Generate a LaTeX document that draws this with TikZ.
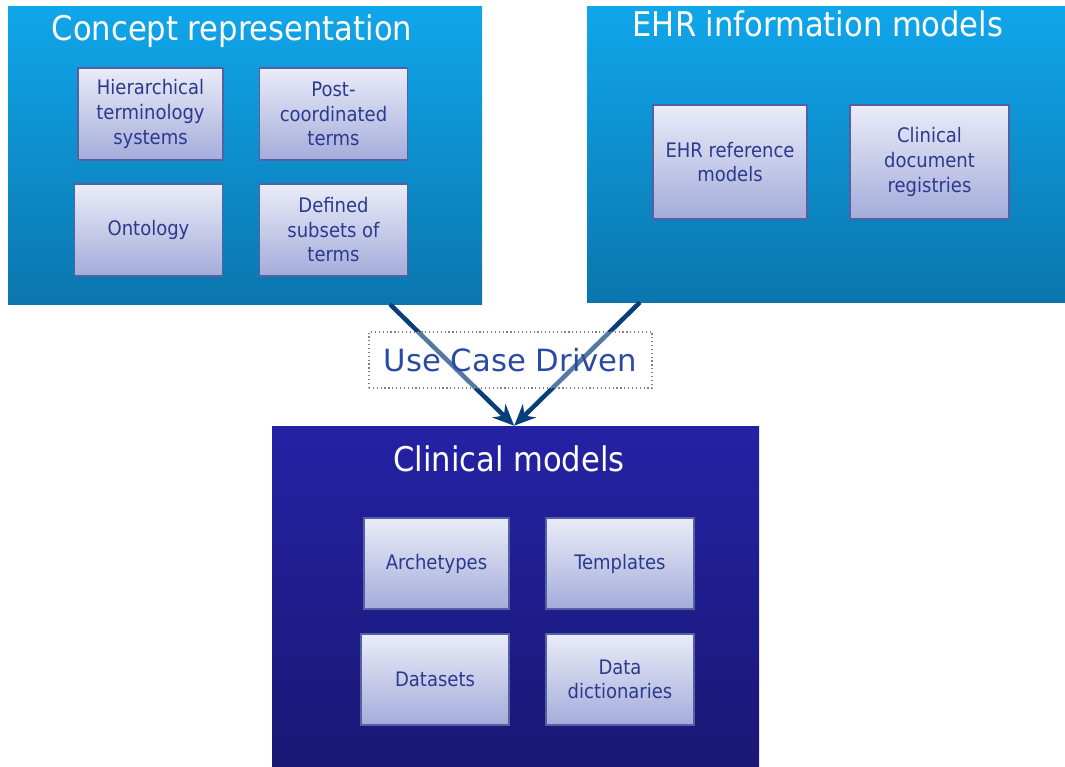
\documentclass[tikz,border=0pt]{standalone}
\usepackage{fontspec}
\setmainfont{DejaVu Sans Condensed}
\newfontfamily\drivefont{DejaVu Sans}
\usetikzlibrary{arrows.meta,fit}
\definecolor{skytop}{RGB}{16,166,234}
\definecolor{skybot}{RGB}{11,118,174}
\definecolor{indtop}{RGB}{36,34,164}
\definecolor{indbot}{RGB}{26,24,116}
\definecolor{boxtop}{RGB}{234,236,248}
\definecolor{boxbot}{RGB}{164,172,218}
\definecolor{boxline}{RGB}{84,96,164}
\definecolor{boxtext}{RGB}{44,58,142}
\definecolor{arrowblue}{RGB}{10,62,122}
\definecolor{drivetext}{RGB}{44,74,164}
\begin{document}
\begin{tikzpicture}[x=0.75pt,y=-0.75pt,
panel/.style={inner sep=0pt, draw=none, top color=#1top, bottom color=#1bot},
paneltitle/.style={anchor=base, text=white, font=\fontsize{25.5}{30}\selectfont},
termbox/.style={inner sep=0pt, draw=boxline, line width=0.8pt, top color=boxtop, bottom color=boxbot,
  minimum width=111pt, minimum height=69pt,
  text=boxtext, align=center, font=\fontsize{15}{18.4}\selectfont},
flow/.style={draw=arrowblue, line width=3.4pt, -{Stealth[length=16pt,width=14pt]}},
drivebox/.style={inner sep=0pt, draw=gray, dotted, line width=0.9pt, fill=white, fill opacity=0.3,
  text opacity=1, text=drivetext, minimum width=212.25pt, minimum height=42pt,
  font=\drivefont\fontsize{23}{28}\selectfont}]
\useasboundingbox (0,0) rectangle (1065,767);

% panels
\node[panel=sky, fit={(8,7) (482,304)}] (concept) {};
\node[panel=sky, fit={(587,7) (1065,302)}] (ehr) {};
\node[panel=ind, fit={(272,426) (759,767)}] (clinical) {};

\node[paneltitle] (concepttitle) at (232,41) {Concept representation};
\node[paneltitle] (ehrtitle) at (818,37) {EHR information models};
\node[paneltitle] (clinicaltitle) at (509,471) {Clinical models};

% concept representation
\node[termbox, minimum width=108.75pt] (hier) at (150.5,114) {Hierarchical\\terminology\\systems};
\node[termbox] (postcoord) at (333.5,114) {Post-\\coordinated\\terms};
\node[termbox] (ontology) at (148.5,230) {Ontology};
\node[termbox] (subsets) at (333.5,230) {Defined\\subsets of\\terms};

% EHR information models
\node[termbox, minimum width=115.5pt, minimum height=85.5pt] (ehrref) at (730,162) {EHR reference\\models};
\node[termbox, minimum width=119.25pt, minimum height=85.5pt] (docreg) at (929.5,162) {Clinical\\document\\registries};

% clinical models
\node[termbox, minimum width=108.75pt, minimum height=68.25pt] (archetypes) at (436.5,563.5) {Archetypes};
\node[termbox, minimum height=68.25pt] (templates) at (620,563.5) {Templates};
\node[termbox, minimum height=68.25pt] (datasets) at (435,679.5) {Datasets};
\node[termbox, minimum height=68.25pt] (datadict) at (620,679.5) {Data\\dictionaries};

% use case arrows
\draw[flow] ([xshift=108.75pt]concept.south) -- ([xshift=-1pt]clinical.north);
\draw[flow] ([xshift=-139.5pt]ehr.south) -- ([xshift=-1pt]clinical.north);
\node[drivebox] (usecase) at (510.5,360) {Use Case Driven};
\end{tikzpicture}
\end{document}
